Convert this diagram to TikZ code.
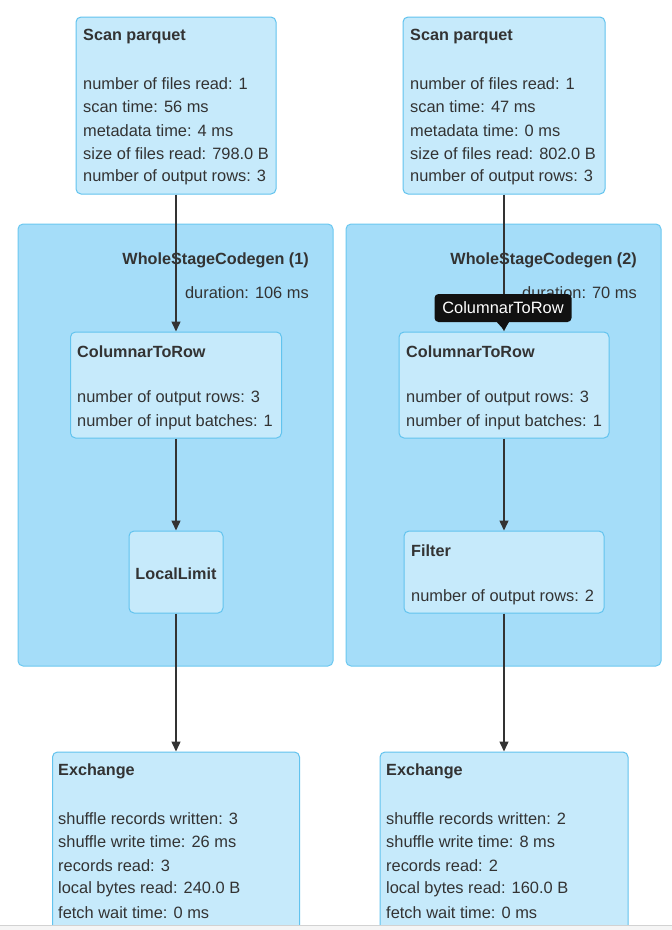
\documentclass[tikz,border=0pt]{standalone}
\usepackage{fontspec}
\setmainfont{Liberation Sans}
\usetikzlibrary{arrows.meta,calc}
\definecolor{nodefill}{HTML}{C6EAFB}
\definecolor{nodeline}{HTML}{62C3EE}
\definecolor{clfill}{HTML}{A5DDF9}
\definecolor{clline}{HTML}{6CC8F0}
\definecolor{txt}{HTML}{333333}
\definecolor{tipbg}{HTML}{111111}
\tikzset{
  fnt/.style={font=\fontsize{16.4}{18}\selectfont},
  fntb/.style={font=\fontsize{16.2}{18}\selectfont\bfseries},
  box/.style={draw=nodeline, fill=nodefill, line width=1pt, rounded corners=5pt, inner sep=0pt},
  cluster/.style={draw=clline, fill=clfill, line width=1pt, rounded corners=5pt, inner sep=0pt},
  ttl/.style={anchor=west, inner sep=0pt, fntb, text=txt, yshift=-1.5pt},
  lbl/.style={anchor=west, inner sep=0pt, fnt, text=txt, yshift=-1.5pt},
  rlbl/.style={anchor=east, inner sep=0pt, fnt, text=txt, yshift=-1.5pt},
  rttl/.style={anchor=east, inner sep=0pt, fntb, text=txt, yshift=-1.5pt},
  arr/.style={draw=txt, line width=1.4pt, -{Triangle[width=9pt,length=10pt]}},
}
\begin{document}
\begin{tikzpicture}[x=1pt,y=-1pt]
\useasboundingbox (0,0) rectangle (672,930);
\fill[white] (0,0) rectangle (672,930);

% clusters
\node[cluster, minimum width=315, minimum height=442] (cl1) at (175.5,445) {};
\node[cluster, minimum width=315, minimum height=442] (cl2) at (503.5,445) {};
\node[rttl] (cl1t) at (309,259) {WholeStageCodegen (1)};
\node[rlbl] (cl1d) at (309,291) {duration: 106 ms};
\node[rttl] (cl2t) at (637,259) {WholeStageCodegen (2)};
\node[rlbl] (cl2d) at (637,291) {duration: 70 ms};

% scan parquet
\node[box, minimum width=200, minimum height=177] (scanL) at (176,105.5) {};
\node[ttl] at (83,35) {Scan parquet};
\node[lbl] at (83,82) {number of files read: 1};
\node[lbl] at (83,105.5) {scan time: 56 ms};
\node[lbl] at (83,129) {metadata time: 4 ms};
\node[lbl] at (83,152.5) {size of files read: 798.0 B};
\node[lbl] at (83,176) {number of output rows: 3};

\node[box, minimum width=202, minimum height=177] (scanR) at (504,105.5) {};
\node[ttl] at (410,35) {Scan parquet};
\node[lbl] at (410,82) {number of files read: 1};
\node[lbl] at (410,105.5) {scan time: 47 ms};
\node[lbl] at (410,129) {metadata time: 0 ms};
\node[lbl] at (410,152.5) {size of files read: 802.0 B};
\node[lbl] at (410,176) {number of output rows: 3};

% columnar to row
\node[box, minimum width=211, minimum height=106] (ctrL) at (176,385) {};
\node[ttl] at (77,350) {ColumnarToRow};
\node[lbl] at (77,397) {number of output rows: 3};
\node[lbl] at (77,420.5) {number of input batches: 1};

\node[box, minimum width=210, minimum height=106] (ctrR) at (504,385) {};
\node[ttl] at (406,350) {ColumnarToRow};
\node[lbl] at (406,397) {number of output rows: 3};
\node[lbl] at (406,420.5) {number of input batches: 1};

% local limit / filter
\node[box, minimum width=94, minimum height=82, fntb, text=txt] (ll) at (176,572) {};
\node[fntb, text=txt, inner sep=0pt, yshift=-1.5pt] (lltxt) at (ll.center) {LocalLimit};
\node[box, minimum width=200, minimum height=82] (flt) at (504,572) {};
\node[ttl] at (411,549) {Filter};
\node[lbl] at (411,596) {number of output rows: 2};

% exchange
\node[box, minimum width=247, minimum height=200] (exL) at (176,852) {};
\node[ttl] at (58,770) {Exchange};
\node[lbl] at (58,817) {shuffle records written: 3};
\node[lbl] at (58,840.5) {shuffle write time: 26 ms};
\node[lbl] at (58,864) {records read: 3};
\node[lbl] at (58,887.5) {local bytes read: 240.0 B};
\node[lbl] at (58,911) {fetch wait time: 0 ms};

\node[box, minimum width=248, minimum height=200] (exR) at (504,852) {};
\node[ttl] at (386,770) {Exchange};
\node[lbl] at (386,817) {shuffle records written: 2};
\node[lbl] at (386,840.5) {shuffle write time: 8 ms};
\node[lbl] at (386,864) {records read: 2};
\node[lbl] at (386,887.5) {local bytes read: 160.0 B};
\node[lbl] at (386,911) {fetch wait time: 0 ms};

% edges
\draw[arr] (scanL.south) -- (ctrL.north);
\draw[arr] (ctrL.south) -- (ll.north);
\draw[arr] (ll.south) -- (exL.north);
\draw[arr] (scanR.south) -- (ctrR.north);
\draw[arr] (ctrR.south) -- (flt.north);
\draw[arr] (flt.south) -- (exR.north);

% tooltip
\node[fill=tipbg, rounded corners=4pt, minimum width=137, minimum height=28, inner sep=0pt, text=white, fnt] (tip) at (503,308) {ColumnarToRow};
\coordinate (tipend) at (504,330);
\fill[tipbg] ($(tip.south)+(-6,0)$) -- ($(tip.south)+(6,0)$) -- (tipend) -- cycle;

% bottom edge of viewport
\fill[gray!8] (0,925) rectangle (672,930);
\draw[gray!35, line width=0.8pt] (0,925) -- (672,925);
\end{tikzpicture}
\end{document}
